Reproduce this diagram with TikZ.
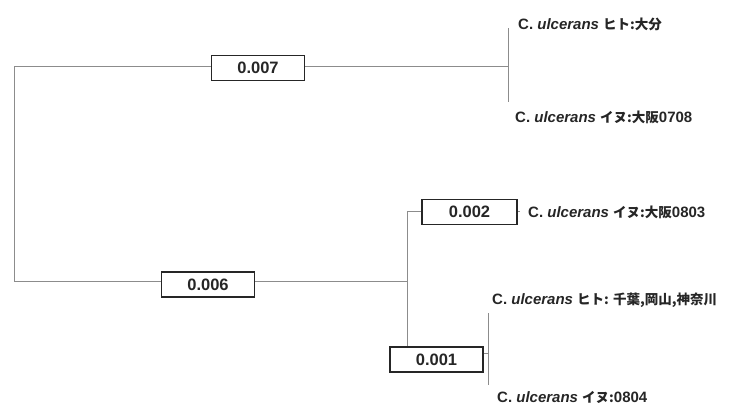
\documentclass[tikz,border=0pt]{standalone}
\usepackage{fontspec}
\setmainfont{Liberation Sans}
\newfontfamily\cjk{Noto Sans CJK JP}[Scale=0.9]
\newcommand{\boxval}[1]{\raisebox{-3pt}{#1}}
\begin{document}
\begin{tikzpicture}[x=1pt,y=-1pt,
  branch/.style={draw=black!45, line width=0.7pt},
  valbox/.style={draw=black!85, fill=white, line width=1.2pt, minimum width=93pt,
    minimum height=25pt, inner sep=0pt, font=\fontsize{16.5}{16.5}\selectfont\bfseries, text=black!85},
  leaf/.style={anchor=west, inner sep=0pt, font=\fontsize{15}{16}\selectfont\bfseries, text=black!85}]
\useasboundingbox (0,0) rectangle (732,408);
\fill[white] (0,0) rectangle (732,408);
% junction coordinates
\coordinate (r1) at (14,66);
\coordinate (r2) at (14,281);
\coordinate (a1) at (508,66);
\coordinate (a1t) at (508,28);
\coordinate (a1b) at (508,102);
\coordinate (b1) at (407,281);
\coordinate (b1t) at (407,211);
\coordinate (c1e) at (520,211);
\coordinate (d1) at (488,353);
\coordinate (d1t) at (488,313);
\coordinate (d1b) at (488,385);
% tree lines
\draw[branch] (r1) -- (r2);
\draw[branch] (r1) -- (a1);
\draw[branch] (a1t) -- (a1b);
\draw[branch] (r2) -- (b1);
\draw[branch] (b1t) -- (c1e);
\draw[branch] (d1t) -- (d1b);
% value boxes
\node[valbox] (v007) at (258,68) {\boxval{0.007}};
\node[valbox] (v006) at (208,284.5) {\boxval{0.006}};
\node[valbox, minimum width=95pt] (v002) at (469.5,212) {\boxval{0.002}};
\node[valbox] (v001) at (436.5,359.5) {\boxval{0.001}};
\draw[branch] (b1t) -- (b1t |- v001.north);
\draw[branch] (v001.east |- d1) -- (d1);
% leaf labels
\node[leaf] (l1) at (518,24) {C. \textit{ulcerans} {\cjk ヒト:大分}};
\node[leaf] (l2) at (515,117) {C. \textit{ulcerans} {\cjk イヌ:大阪}0708};
\node[leaf] (l3) at (528,212) {C. \textit{ulcerans} {\cjk イヌ:大阪}0803};
\node[leaf] (l4) at (492,300) {C. \textit{ulcerans} {\cjk ヒト: 千葉,岡山,神奈川}};
\node[leaf] (l5) at (497,397) {C. \textit{ulcerans} {\cjk イヌ:}0804};
\end{tikzpicture}
\end{document}
